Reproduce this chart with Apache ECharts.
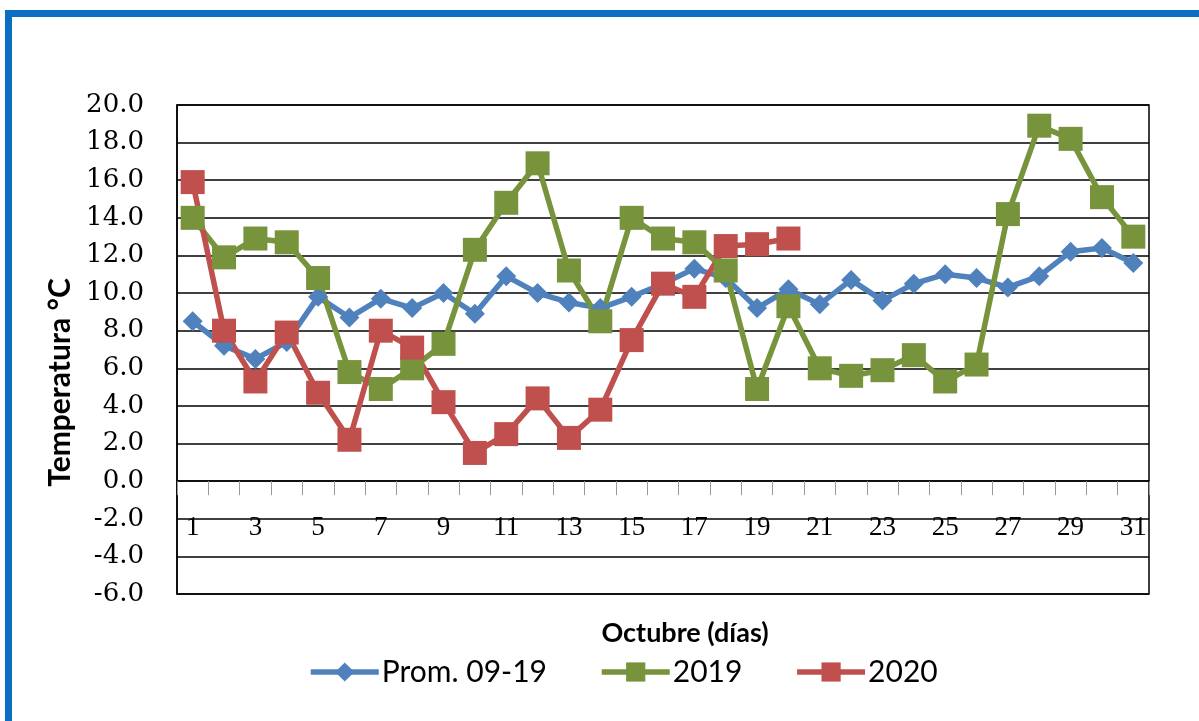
<!DOCTYPE html>
<html lang="es">
  <head>
    <meta charset="UTF-8" />
    <title>Temperatura Octubre</title>
    <script src="https://cdn.jsdelivr.net/npm/echarts@6/dist/echarts.min.js"></script>
    <style>
      * { margin: 0; padding: 0; box-sizing: border-box; }
      body { width: 1199px; height: 721px; overflow: hidden; background: #fff; position: relative; }
      #frame {
        position: absolute; left: 5px; top: 10px; width: 1300px; height: 800px;
        border: 7px solid #0A6FC2;
      }
      #chart { position: absolute; left: 0; top: 0; width: 1199px; height: 721px; }
    </style>
  </head>
  <body>
    <div id="frame"></div>
    <div id="chart"></div>
    <script>
      // días de octubre
      const days = [];
      for (let d = 1; d <= 31; d++) days.push(String(d));

      const prom0919 = [8.5, 7.2, 6.5, 7.4, 9.8, 8.7, 9.7, 9.2, 10.0, 8.9, 10.9,
        10.0, 9.5, 9.2, 9.8, 10.5, 11.3, 10.8, 9.2, 10.2, 9.4,
        10.7, 9.6, 10.5, 11.0, 10.8, 10.3, 10.9, 12.2, 12.4, 11.6];

      const y2019 = [14.0, 11.9, 12.9, 12.7, 10.8, 5.8, 4.9, 6.0, 7.3, 12.3, 14.8,
        16.9, 11.2, 8.5, 14.0, 12.9, 12.7, 11.2, 4.9, 9.3, 6.0,
        5.6, 5.9, 6.7, 5.3, 6.2, 14.2, 18.9, 18.2, 15.1, 13.0];

      const y2020 = [15.9, 8.0, 5.3, 7.9, 4.7, 2.2, 8.0, 7.1, 4.2, 1.5, 2.5,
        4.4, 2.3, 3.8, 7.5, 10.5, 9.8, 12.5, 12.6, 12.9,
        null, null, null, null, null, null, null, null, null, null, null];

      const chart = echarts.init(document.getElementById("chart"));

      function lineSeries(name, data, color, symbol, size) {
        return {
          name: name,
          type: "line",
          data: data,
          symbol: symbol,
          symbolSize: size,
          showAllSymbol: true,
          connectNulls: false,
          lineStyle: { color: color, width: 5.5 },
          itemStyle: { color: color },
          emphasis: { disabled: true },
        };
      }

      chart.setOption({
        animation: false,
        textStyle: { fontFamily: "Lato" },
        grid: {
          left: 177, right: 50, top: 105, bottom: 127,
          containLabel: false, outerBoundsMode: "none",
          show: true, borderColor: "#000", borderWidth: 1.5,
        },
        legend: {
          left: 303, top: 652,
          itemWidth: 68, itemHeight: 24, itemGap: 52,
          lineStyle: { width: 5.5 },
          textStyle: { fontFamily: "Lato", fontSize: 30, color: "#000", padding: [0, 0, 0, -2] },
          data: ["Prom. 09-19", "2019", "2020"],
        },
        xAxis: {
          type: "category",
          data: days,
          boundaryGap: true,
          name: "Octubre (días)",
          nameLocation: "middle",
          // la etiqueta se mide desde el borde inferior del grid
          nameGap: 26,
          nameTextStyle: {
            fontFamily: "Lato", fontWeight: "bold", fontSize: 27, color: "#000",
            padding: [0, 0, 0, 44],
          },
          axisLine: { onZero: true, lineStyle: { color: "#000", width: 1.5 } },
          axisTick: { show: true, interval: 0, length: 14, lineStyle: { color: "#999" } },
          axisLabel: {
            interval: 1, margin: -80,
            fontFamily: "Liberation Serif", fontSize: 27, color: "#000",
          },
        },
        yAxis: {
          type: "value",
          min: -6, max: 20, interval: 2,
          name: "Temperatura °C",
          nameLocation: "middle",
          nameGap: 102,
          nameTextStyle: {
            fontFamily: "Lato", fontWeight: "bold", fontSize: 30, color: "#000",
            padding: [0, 66, 0, 0],
          },
          axisLine: { show: true, lineStyle: { color: "#000", width: 1.5 } },
          axisTick: { show: false },
          axisLabel: {
            margin: 33, fontFamily: "DejaVu Serif", fontSize: 26, color: "#000",
            formatter: (v) => v.toFixed(1),
          },
          splitLine: { lineStyle: { color: "#000", width: 1.5 } },
        },
        series: [
          lineSeries("Prom. 09-19", prom0919, "#4F81BD", "diamond", 20),
          lineSeries("2019", y2019, "#77933C", "rect", 24),
          lineSeries("2020", y2020, "#C0504D", "rect", 24),
        ],
      });
    </script>
  </body>
</html>
